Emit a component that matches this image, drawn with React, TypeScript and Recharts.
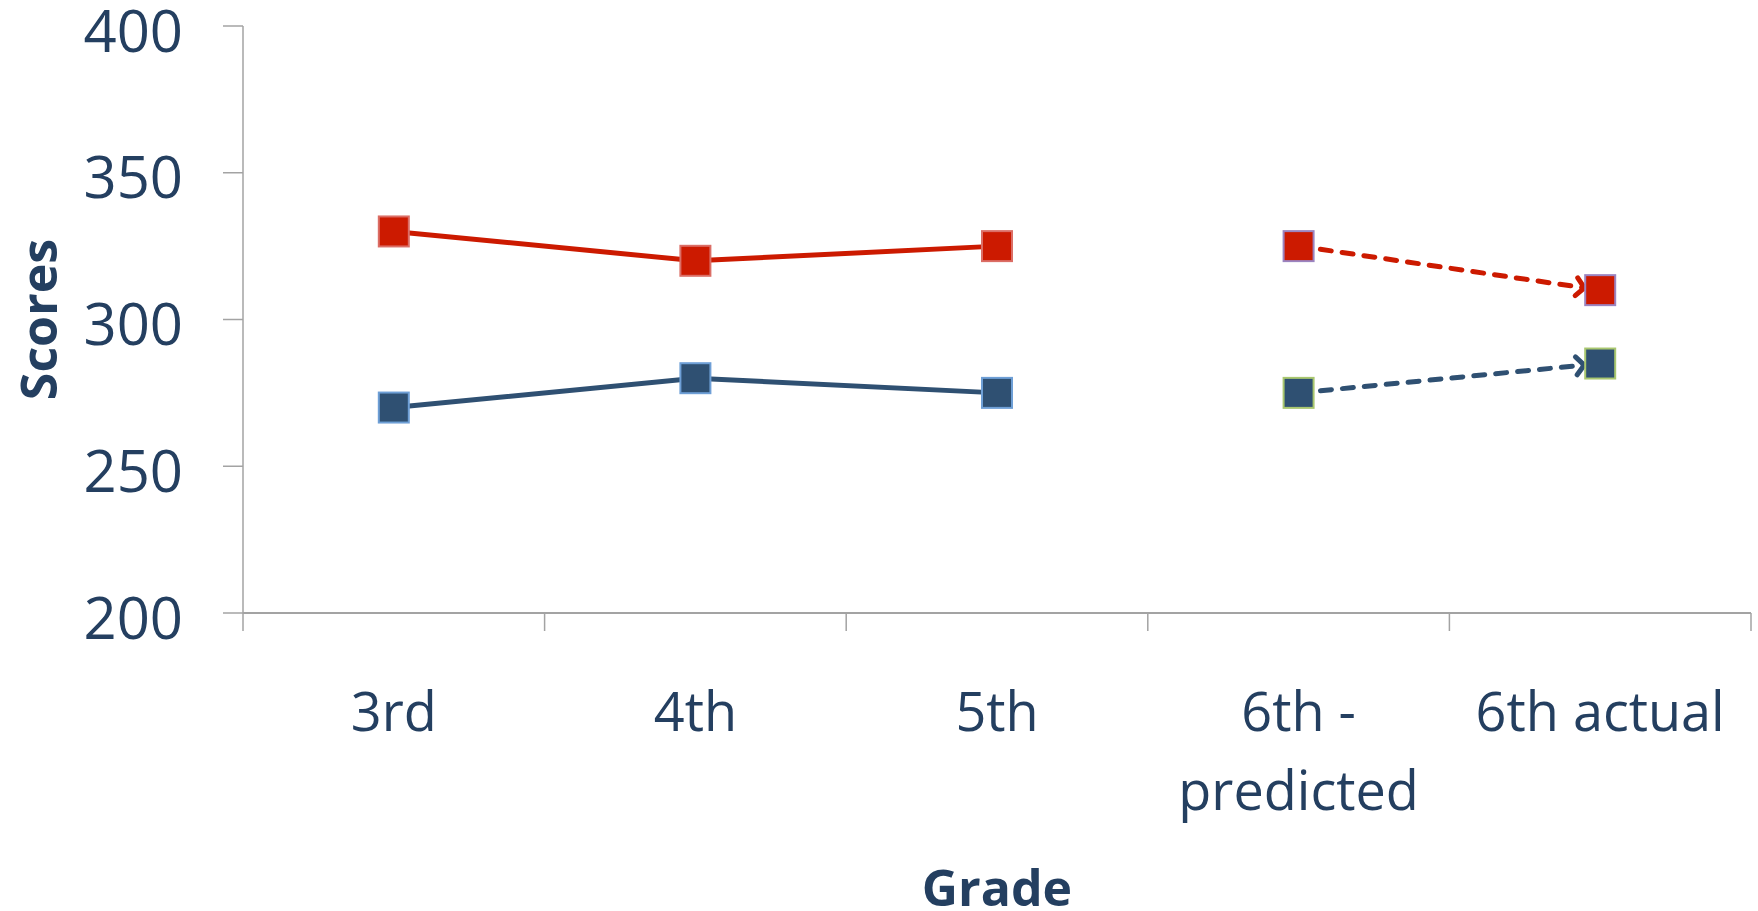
import React from 'react';
import { LineChart, Line, XAxis, YAxis } from 'recharts';

const categories = ['3rd', '4th', '5th', '6th - predicted', '6th actual'];
const redScores = [330, 320, 325, 325, 310];
const blueScores = [270, 280, 275, 275, 285];
// true where the point belongs to the predicted -> actual (dashed) segment
const predictedSegment = [false, false, false, true, true];
const yTicks = [200, 250, 300, 350, 400];

const TEXT = '#243F60';
const AXIS = '#A3A3A3';
const RED = '#CC1A00';
const BLUE = '#2F5072';
const FONT = '"Open Sans", sans-serif';

const data = categories.map((grade, i) => ({
  grade,
  slot: i,
  redSolid: predictedSegment[i] ? null : redScores[i],
  redDash: predictedSegment[i] ? redScores[i] : null,
  blueSolid: predictedSegment[i] ? null : blueScores[i],
  blueDash: predictedSegment[i] ? blueScores[i] : null,
}));

const boundTicks = [...categories.map((_, i) => i), categories.length];

const squareDot = (fill: string, stroke: string) => (props: any) => {
  const { cx, cy, index } = props;
  if (cx == null || cy == null || props.value == null) return <g key={`e-${index}`} />;
  return (
    <rect
      key={`d-${index}`}
      x={cx - 15}
      y={cy - 15}
      width={30}
      height={30}
      fill={fill}
      stroke={stroke}
      strokeWidth={2}
    />
  );
};

const XTick = (props: any) => {
  const { x, y, payload } = props;
  const label: string = String(payload.value);
  const parts = label.includes(' - ') ? [label.split(' - ')[0] + ' -', label.split(' - ')[1]] : [label];
  return (
    <text x={x} y={y} textAnchor="middle" fill={TEXT} fontSize={54} fontFamily={FONT}>
      {parts.map((p, i) => (
        <tspan key={i} x={x} dy={i === 0 ? '0.71em' : 79}>
          {p}
        </tspan>
      ))}
    </text>
  );
};

const YTick = (props: any) => {
  const { x, y, payload } = props;
  return (
    <text x={x} y={y + 5} dy="0.355em" textAnchor="end" fill={TEXT} fontSize={58} fontFamily={FONT}>
      {payload.value}
    </text>
  );
};

const ScoresLabel = (props: any) => {
  const vb = props.viewBox;
  const cx = vb.x + 57;
  const cy = vb.y + vb.height / 2;
  return (
    <text
      x={cx}
      y={cy}
      transform={`rotate(-90, ${cx}, ${cy})`}
      textAnchor="middle"
      fill={TEXT}
      fontSize={50}
      fontWeight="bold"
      fontFamily={FONT}
    >
      Scores
    </text>
  );
};

const GradeLabel = (props: any) => {
  const vb = props.viewBox;
  return (
    <text
      x={vb.x + vb.width / 2}
      y={vb.y + vb.height - 5}
      textAnchor="middle"
      fill={TEXT}
      fontSize={50}
      fontWeight="bold"
      fontFamily={FONT}
    >
      Grade
    </text>
  );
};

const blankTick = () => '';

export default function App() {
  return (
    <div style={{ position: 'absolute', left: 0, top: 0, background: '#fff' }}>
      <LineChart width={1758} height={911} data={data} margin={{ top: 26, right: 7, left: 0, bottom: 0 }}>
        <defs>
          <marker
            id="arrowRed"
            viewBox="0 0 40 40"
            markerWidth={40}
            markerHeight={40}
            refX={34}
            refY={20}
            orient="auto"
            markerUnits="userSpaceOnUse"
          >
            <path d="M 10 11 L 18 20 L 10 29" fill="none" stroke={RED} strokeWidth={5} strokeLinecap="round" strokeLinejoin="round" />
          </marker>
          <marker
            id="arrowBlue"
            viewBox="0 0 40 40"
            markerWidth={40}
            markerHeight={40}
            refX={34}
            refY={20}
            orient="auto"
            markerUnits="userSpaceOnUse"
          >
            <path d="M 10 11 L 18 20 L 10 29" fill="none" stroke={BLUE} strokeWidth={5} strokeLinecap="round" strokeLinejoin="round" />
          </marker>
        </defs>
        <XAxis
          xAxisId="bounds"
          dataKey="slot"
          type="number"
          domain={[0, categories.length]}
          ticks={boundTicks}
          allowDataOverflow
          interval={0}
          height={1}
          tickFormatter={blankTick}
          tickSize={18}
          tickLine={{ stroke: AXIS, strokeWidth: 1.5 }}
          axisLine={{ stroke: AXIS, strokeWidth: 2 }}
        />
        <XAxis
          xAxisId="cat"
          dataKey="grade"
          type="category"
          scale="band"
          height={297}
          axisLine={false}
          tickLine={false}
          tickSize={0}
          tickMargin={79}
          interval={0}
          tick={<XTick />}
          label={<GradeLabel />}
        />
        <YAxis
          domain={[200, 400]}
          ticks={yTicks}
          width={243}
          tickSize={20}
          tickMargin={40}
          interval={0}
          axisLine={{ stroke: AXIS, strokeWidth: 1.5 }}
          tickLine={{ stroke: AXIS, strokeWidth: 1.5 }}
          tick={<YTick />}
          label={<ScoresLabel />}
        />
        <Line
          xAxisId="cat"
          dataKey="redSolid"
          stroke={RED}
          strokeWidth={5}
          isAnimationActive={false}
          dot={squareDot(RED, '#DB6E66')}
          activeDot={false}
        />
        <Line
          xAxisId="cat"
          dataKey="blueSolid"
          stroke={BLUE}
          strokeWidth={5}
          isAnimationActive={false}
          dot={squareDot(BLUE, '#6E9FD6')}
          activeDot={false}
        />
        <Line
          xAxisId="cat"
          dataKey="redDash"
          stroke={RED}
          strokeWidth={5}
          strokeDasharray="11 11"
          strokeLinecap="round"
          markerEnd="url(#arrowRed)"
          isAnimationActive={false}
          dot={squareDot(RED, '#9B84C0')}
          activeDot={false}
        />
        <Line
          xAxisId="cat"
          dataKey="blueDash"
          stroke={BLUE}
          strokeWidth={5}
          strokeDasharray="11 11"
          strokeLinecap="round"
          markerEnd="url(#arrowBlue)"
          isAnimationActive={false}
          dot={squareDot(BLUE, '#A9C76F')}
          activeDot={false}
        />
      </LineChart>
    </div>
  );
}
